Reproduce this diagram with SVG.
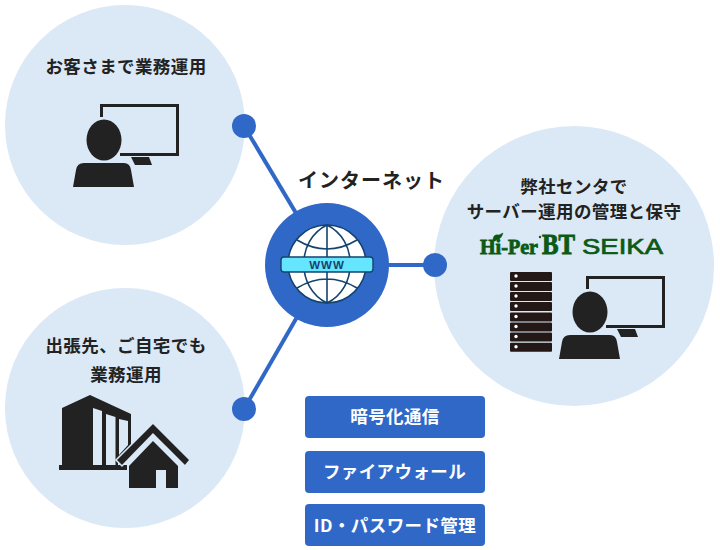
<svg xmlns="http://www.w3.org/2000/svg" width="720" height="550" viewBox="0 0 720 550">
<style>
.bg{fill:#dbe8f6}
.blue{fill:#3068c8}
.ic{fill:#222}
.t{font-family:"Noto Sans CJK JP","Noto Sans",sans-serif;font-weight:700;font-size:17.500px;letter-spacing:.4px;fill:#222;text-anchor:middle}
.g{fill:none;stroke:#14436e;stroke-width:1.6}
.lg{fill:#0b5a14;stroke:#0b5a14}
</style>
<defs>
<g id="op">
<path class="ic" d="M100 117V104H179V156H120V153H176V107H103V117Z"/>
<path class="ic" d="M131 157H149L152 165H135Z"/>
<ellipse class="ic" cx="104" cy="140" rx="17.5" ry="20.5"/>
<path class="ic" d="M73 187L76 170Q77 163 84 163H124Q130 163 131 170L134 187Z"/>
</g>
</defs>
<g id="connectors" stroke="#3068c8" stroke-width="4" fill="none">
<path d="M244 126L327 265"/>
<path d="M244 409L327 265"/>
<path d="M327 265H435"/>
</g>
<g id="node-customer">
<circle class="bg" cx="125" cy="125" r="120"/>
<circle class="blue" cx="244" cy="126" r="12"/>
<text class="t" x="126" y="73">お客さまで業務運用</text>
<use href="#op"/>
</g>
<g id="node-remote">
<circle class="bg" cx="125" cy="408" r="120"/>
<circle class="blue" cx="244" cy="409" r="12"/>
<text class="t" x="126" y="352">出張先、ご自宅でも</text>
<text class="t" x="126" y="381">業務運用</text>
<path class="ic" d="M62 408L90 395L131 414V445L118 458V465H62Z"/>
<path class="bg" d="M93 408L102 411V465H93ZM106 414L115.500 417V465H106ZM119 419L128 421V445L119 455Z"/>
<path class="ic" d="M59 465H127V470H59Z"/>
<path class="ic" stroke="#dbe8f6" stroke-width="1.500" d="M153 423L190 460L185 466L153 434L122 466L116 460Z"/>
<path class="ic" d="M153 441L178 466V488H166V470H156V488H129V466Z"/>
</g>
<g id="node-internet">
<circle class="blue" cx="327" cy="265" r="62"/>
<circle cx="327" cy="264" r="39" fill="#fff" stroke="#14436e" stroke-width="1.600"/>
<path class="g" d="M327 225V303M327 225C296 240 296 288 327 303M327 225C358 240 358 288 327 303M297 240Q327 258 357 240M297 288Q327 270 357 288"/>
<rect x="281" y="257" width="92" height="15" rx="3" fill="#66e5ff" stroke="#14436e" stroke-width="1.400"/>
<text x="327" y="269" font-family="Liberation Sans,sans-serif" font-weight="700" font-size="11.500" letter-spacing="1" fill="#14436e" text-anchor="middle">WWW</text>
<text class="t" x="371.500" y="188" style="font-size:20px;letter-spacing:1px">インターネット</text>
</g>
<g id="node-datacenter">
<circle class="bg" cx="574" cy="266" r="140"/>
<circle class="blue" cx="435" cy="265" r="12"/>
<text class="t" x="574" y="193">弊社センタで</text>
<text class="t" x="574" y="218">サーバー運用の管理と保守</text>
<text class="lg" x="480" y="254" stroke-width=".8" font-family="Liberation Serif,serif" font-weight="700" font-size="20" textLength="58" lengthAdjust="spacingAndGlyphs">Hi-Per</text>
<path class="lg" stroke-width=".5" d="M493 240Q493 234 499 235L503 233Q501 240 496 240Z"/>
<circle class="lg" stroke-width="0" cx="540" cy="237" r="1.200"/>
<text class="lg" x="542" y="254" stroke-width="1" font-family="Liberation Serif,serif" font-weight="700" font-size="29" textLength="33" lengthAdjust="spacingAndGlyphs">BT</text>
<text class="lg" x="582" y="254" stroke-width=".7" font-family="Liberation Sans,sans-serif" font-size="22.500" textLength="81" lengthAdjust="spacingAndGlyphs">SEIKA</text>
<g fill="#231815">
<rect x="510" y="272" width="42" height="9" rx="1"/>
<rect x="510" y="282" width="42" height="9" rx="1"/>
<rect x="510" y="292" width="42" height="9" rx="1"/>
<rect x="510" y="302" width="42" height="9" rx="1"/>
<rect x="510" y="312.500" width="42" height="9" rx="1"/>
<rect x="510" y="322.500" width="42" height="9" rx="1"/>
<rect x="510" y="332.500" width="42" height="9" rx="1"/>
<rect x="510" y="342.700" width="42" height="9" rx="1"/>
</g>
<g fill="#fff">
<circle cx="516" cy="276" r="1.700"/><circle cx="516" cy="286" r="1.700"/><circle cx="516" cy="296" r="1.700"/><circle cx="516" cy="306" r="1.700"/><circle cx="516" cy="316.500" r="1.700"/><circle cx="516" cy="326.500" r="1.700"/><circle cx="516" cy="336.500" r="1.700"/><circle cx="516" cy="346.700" r="1.700"/>
</g>
<use href="#op" x="486" y="172"/>
</g>
<g id="node-encrypt">
<rect class="blue" x="305" y="396" width="180" height="42" rx="4"/>
<text class="t" x="395" y="423" style="fill:#fff">暗号化通信</text>
</g>
<g id="node-firewall">
<rect class="blue" x="305" y="451" width="180" height="42" rx="4"/>
<text class="t" x="394.500" y="478" style="fill:#fff">ファイアウォール</text>
</g>
<g id="node-password">
<rect class="blue" x="305" y="504" width="180" height="42" rx="4"/>
<text class="t" x="395" y="532" style="fill:#fff">ID・パスワード管理</text>
</g>
</svg>
